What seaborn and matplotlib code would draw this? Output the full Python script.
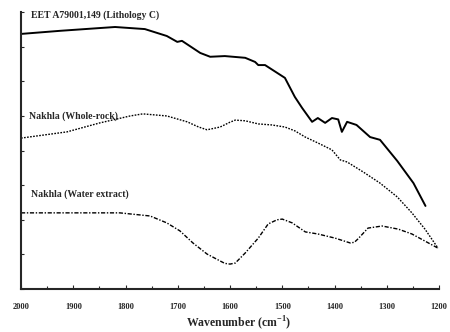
import numpy as np
import pandas as pd
import matplotlib
matplotlib.use("Agg")
import matplotlib.pyplot as plt
from matplotlib.ticker import MultipleLocator
import seaborn as sns

# Infrared spectra (absorbance, arbitrary offset units) vs wavenumber
eet_wn = [2000, 1925, 1849, 1820, 1763, 1721, 1701, 1692, 1657, 1638, 1610,
          1571, 1552, 1546, 1533, 1495, 1476, 1462, 1443, 1432, 1418, 1405,
          1393, 1386, 1376, 1358, 1332, 1313, 1280, 1249, 1226]
eet_abs = [7.37, 7.46, 7.54, 7.57, 7.51, 7.31, 7.14, 7.17, 6.82, 6.71, 6.73,
           6.68, 6.56, 6.47, 6.47, 6.10, 5.55, 5.23, 4.83, 4.94, 4.80, 4.94,
           4.90, 4.54, 4.83, 4.74, 4.39, 4.31, 3.70, 3.06, 2.40]

wr_wn = [2000, 1912, 1849, 1791, 1767, 1721, 1682, 1660, 1644, 1619, 1600,
         1590, 1571, 1546, 1520, 1495, 1476, 1456, 1432, 1405, 1389, 1376,
         1345, 1313, 1280, 1252, 1227, 1202]
wr_abs = [4.36, 4.54, 4.80, 5.00, 5.06, 5.00, 4.83, 4.68, 4.60, 4.68, 4.82,
          4.88, 4.86, 4.77, 4.74, 4.68, 4.57, 4.39, 4.22, 4.02, 3.73, 3.67,
          3.38, 3.06, 2.66, 2.20, 1.73, 1.18]

we_wn = [2000, 1811, 1753, 1721, 1696, 1671, 1644, 1619, 1610, 1600, 1590,
         1571, 1546, 1527, 1510, 1500, 1481, 1456, 1432, 1399, 1370, 1362,
         1355, 1336, 1309, 1278, 1252, 1202]
we_abs = [2.20, 2.20, 2.11, 1.91, 1.68, 1.33, 1.01, 0.81, 0.74, 0.72, 0.75,
          1.04, 1.47, 1.88, 2.00, 2.02, 1.91, 1.65, 1.59, 1.47, 1.33, 1.35,
          1.45, 1.76, 1.82, 1.73, 1.59, 1.18]

labels = ["EET A79001,149 (Lithology C)", "Nakhla (Whole-rock)",
          "Nakhla (Water extract)"]

df = pd.concat([
    pd.DataFrame({"wn": eet_wn, "abs": eet_abs, "sample": labels[0]}),
    pd.DataFrame({"wn": wr_wn, "abs": wr_abs, "sample": labels[1]}),
    pd.DataFrame({"wn": we_wn, "abs": we_abs, "sample": labels[2]}),
])

sns.set_style("ticks")
plt.rcParams["font.family"] = ["Liberation Serif", "DejaVu Serif"]

fig = plt.figure(figsize=(4.5, 3.32), dpi=100)
ax = fig.add_axes([0.0467, 0.1295, 0.929, 0.834])

styles = {
    labels[0]: dict(ls="-", lw=1.4),
    labels[1]: dict(ls=(0, (1.2, 1.0)), lw=1.0),
    labels[2]: dict(ls=(0, (3.0, 1.2, 1.0, 1.2)), lw=1.0),
}
for name, sub in df.groupby("sample", sort=False):
    sns.lineplot(data=sub, x="wn", y="abs", ax=ax, color="black",
                 sort=False, estimator=None, legend=False,
                 linestyle=styles[name]["ls"], linewidth=styles[name]["lw"])

ax.set_xlim(2000, 1200)
ax.set_ylim(0, 8)
ax.xaxis.set_major_locator(MultipleLocator(100))
ax.xaxis.set_minor_locator(MultipleLocator(50))
ax.yaxis.set_major_locator(MultipleLocator(1))
ax.set_yticklabels([])
ax.tick_params(axis="both", which="both", direction="in", width=0.8)
ax.tick_params(axis="x", which="major", length=3, labelsize=6, pad=10)
ax.tick_params(axis="x", which="minor", length=2)
ax.tick_params(axis="y", which="major", length=2)
for t in ax.get_xticklabels():
    t.set_fontweight("bold")
for s in ["top", "right"]:
    ax.spines[s].set_visible(False)
for s in ["left", "bottom"]:
    ax.spines[s].set_linewidth(1.5)

ax.set_xlabel("Wavenumber (cm$^{\\mathregular{-1}}$)", fontsize=8.5,
              fontweight="bold")
ax.xaxis.set_label_coords(0.52, -0.122)
ax.xaxis.label.set_va("center")
ax.set_ylabel("")

ax.text(1981, 7.92, labels[0], fontsize=7, va="center", ha="left",
        fontweight="semibold")
ax.text(1984, 5.0, labels[1], fontsize=7, va="center", ha="left",
        fontweight="semibold")
ax.text(1981, 2.75, labels[2], fontsize=7, va="center", ha="left",
        fontweight="semibold")

fig.savefig("out.png", dpi=100)
